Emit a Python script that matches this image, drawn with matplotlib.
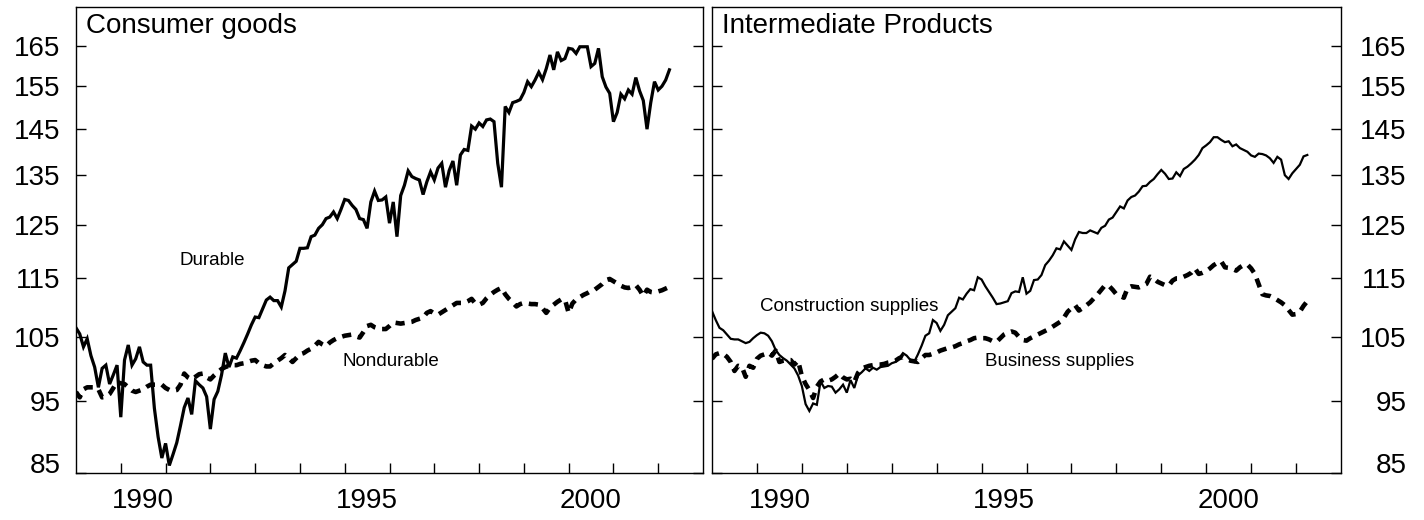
import numpy as np
import matplotlib
matplotlib.use("Agg")
import matplotlib.pyplot as plt
from matplotlib.ticker import NullLocator

plt.rcParams['font.family'] = ['Liberation Sans', 'DejaVu Sans']

# Monthly index values, Jan 1989 - Apr 2002
start_year = 1989

durable = [
    106.5, 105.5, 103.4, 104.7, 102.0, 100.2, 97.1, 100.0, 100.5, 97.6, 99.0, 100.5,
    92.7, 101.3, 103.7, 100.5, 101.5, 103.4, 101.0, 100.5, 100.5, 94.0, 89.9, 87.0,
    89.0, 86.0, 87.5, 89.1, 91.5, 94.1, 95.5, 93.1, 98.1, 97.5, 97.0, 95.7,
    91.0, 95.3, 96.5, 99.0, 102.4, 100.2, 101.8, 101.6, 102.8, 104.1, 105.5, 107.0,
    108.3, 108.2, 109.7, 111.2, 111.7, 111.1, 111.1, 110.0, 112.8, 116.9, 117.5, 118.1,
    120.5, 120.5, 120.6, 122.7, 123.0, 124.3, 125.0, 126.2, 126.5, 127.5, 126.2, 128.0,
    130.0, 129.8, 128.8, 128.0, 126.2, 126.0, 124.3, 129.5, 131.7, 129.8, 129.9, 130.5,
    125.3, 129.5, 122.7, 130.8, 132.9, 135.9, 134.7, 134.3, 134.0, 131.0, 133.6, 135.7,
    134.0, 136.5, 137.5, 132.5, 136.0, 138.0, 132.9, 139.3, 140.5, 140.3, 145.7, 145.0,
    146.4, 145.6, 147.1, 147.3, 146.7, 137.5, 132.5, 150.2, 148.8, 151.1, 151.4, 151.8,
    153.5, 156.1, 154.9, 156.5, 158.4, 156.6, 159.3, 162.7, 159.0, 163.5, 161.3, 161.8,
    164.4, 164.2, 163.1, 164.8, 164.8, 164.8, 159.8, 160.6, 164.4, 157.3, 154.8, 153.3,
    146.7, 148.8, 153.1, 152.0, 154.1, 153.1, 157.1, 153.9, 151.6, 145.0, 151.1, 156.1,
    154.1, 155.0, 156.5, 159.0,
]

nondurable = [
    96.4, 95.6, 96.8, 97.1, 97.1, 97.1, 96.8, 95.6, 95.7, 96.1, 97.0, 97.9,
    97.7, 97.6, 97.1, 96.6, 96.4, 96.6, 96.8, 97.2, 97.5, 97.5, 97.5, 97.5,
    97.0, 96.7, 96.6, 96.7, 97.5, 99.2, 98.6, 98.3, 98.7, 99.1, 99.2, 98.6,
    98.3, 98.9, 99.4, 99.9, 100.2, 100.4, 100.5, 100.5, 100.7, 100.8, 101.0, 101.2,
    101.3, 100.8, 100.5, 100.3, 100.3, 100.8, 101.2, 101.6, 102.1, 101.6, 101.0, 101.6,
    102.2, 102.4, 102.8, 103.1, 103.6, 104.2, 103.8, 103.5, 104.1, 104.5, 104.8, 105.0,
    105.2, 105.3, 105.4, 105.1, 104.9, 105.8, 106.8, 107.0, 106.6, 106.4, 106.3, 106.3,
    106.8, 107.4, 107.3, 107.2, 107.3, 107.4, 107.5, 107.8, 108.0, 108.2, 109.0, 109.3,
    108.9, 108.7, 109.1, 109.5, 109.9, 110.3, 110.7, 110.7, 110.7, 111.0, 111.4, 110.6,
    110.4, 110.7, 111.5, 112.1, 112.6, 113.0, 113.3, 112.2, 111.4, 110.8, 110.1, 110.5,
    110.7, 110.6, 110.5, 110.5, 110.4, 109.8, 109.0, 109.9, 110.4, 110.9, 111.3, 111.3,
    109.0, 110.6, 111.3, 111.7, 112.1, 112.4, 112.8, 113.0, 113.5, 114.0, 114.7, 114.9,
    114.5, 114.1, 113.7, 113.4, 113.3, 113.5, 113.8, 113.0, 111.9, 113.0, 112.6, 112.5,
    112.7, 112.9, 113.2, 113.5,
]

construction = [
    109.3, 107.8, 106.5, 106.1, 105.4, 104.7, 104.6, 104.6, 104.3, 104.0, 104.2, 104.8,
    105.3, 105.7, 105.6, 105.2, 104.3, 102.9, 102.1, 101.6, 101.2, 100.6, 100.0, 98.9,
    97.3, 94.6, 93.6, 94.7, 94.5, 98.0, 97.0, 97.3, 97.2, 96.3, 96.8, 97.5,
    96.3, 98.2, 97.0, 98.9, 99.4, 100.0, 99.6, 100.1, 99.8, 100.2, 100.3, 100.4,
    100.8, 101.0, 101.6, 102.4, 102.0, 101.3, 101.0, 102.2, 103.6, 105.2, 105.6, 107.8,
    107.3, 106.0, 107.0, 108.6, 109.2, 109.8, 111.6, 111.3, 112.3, 113.1, 112.9, 115.2,
    114.8, 113.6, 112.6, 111.6, 110.5, 110.6, 110.8, 111.0, 112.4, 112.7, 112.6, 115.2,
    112.3, 112.8, 114.7, 114.8, 115.6, 117.4, 118.2, 119.2, 120.5, 120.3, 121.8, 121.0,
    120.2, 122.2, 123.6, 123.4, 123.4, 123.9, 123.6, 123.3, 124.4, 124.8, 126.0, 126.4,
    127.5, 128.6, 128.2, 129.8, 130.5, 130.8, 131.6, 132.7, 132.8, 133.6, 134.2, 135.2,
    136.1, 135.3, 134.2, 134.3, 135.6, 134.8, 136.3, 136.8, 137.5, 138.3, 139.3, 140.8,
    141.4, 142.1, 143.2, 143.2, 142.6, 142.1, 142.3, 141.2, 141.6, 140.8, 140.4, 140.0,
    139.2, 138.9, 139.6, 139.5, 139.2, 138.6, 137.6, 138.9, 138.3, 135.0, 134.2, 135.4,
    136.3, 137.2, 139.0, 139.3,
]

business = [
    101.5, 102.2, 102.4, 102.3, 101.8, 101.0, 99.6, 100.4, 100.2, 98.7, 100.4, 100.1,
    101.5, 102.0, 102.2, 102.5, 102.0, 102.8, 101.0, 101.2, 101.3, 101.3, 100.6, 101.2,
    98.8, 97.6, 96.7, 95.5, 97.2, 98.0, 98.3, 98.1, 98.3, 98.7, 99.2, 98.6,
    98.3, 98.4, 97.9, 99.3, 100.0, 100.2, 100.4, 100.5, 100.6, 100.6, 100.7, 100.9,
    101.0, 101.2, 101.6, 101.8, 101.5, 101.2, 101.1, 101.0, 101.6, 102.1, 102.1, 102.3,
    102.5, 102.8, 103.0, 103.2, 103.3, 103.5, 103.8, 104.0, 104.3, 104.5, 104.8, 104.9,
    104.8, 104.8, 104.6, 104.3, 104.2, 104.8, 105.4, 105.7, 105.9, 105.7, 105.0, 104.5,
    104.4, 104.8, 105.1, 105.4, 105.7, 106.0, 106.3, 106.7, 107.1, 107.5, 108.2, 109.2,
    109.8, 110.3, 109.4, 109.8, 110.3, 110.8, 111.5, 112.2, 113.0, 113.8, 113.7, 113.0,
    112.2, 111.9, 111.6, 113.3, 113.6, 113.5, 113.4, 113.7, 114.0, 115.3, 115.0, 114.4,
    114.1, 113.8, 113.7, 114.6, 115.0, 115.0, 115.3, 115.6, 116.0, 116.8, 115.8, 116.0,
    116.3, 116.8, 117.4, 117.8, 118.1, 117.0, 116.9, 116.7, 116.4, 117.0, 117.4, 117.5,
    116.8, 115.8, 114.0, 112.2, 112.0, 111.9, 111.6, 111.2, 110.8, 110.3, 109.5, 108.7,
    108.8, 109.2, 110.2, 111.0,
]

panel_titles = ["Consumer goods", "Intermediate Products"]
ytick_values = [85, 95, 105, 115, 125, 135, 145, 155, 165]
year_ticks = list(range(1990, 2003))
year_labels = [1990, 1995, 2000]

t = start_year + np.arange(len(durable)) / 12.0

fig = plt.figure(figsize=(14.24, 5.2), dpi=100)
ax1 = fig.add_axes([76 / 1424, 47 / 520, 627 / 1424, 466 / 520])
ax2 = fig.add_axes([712 / 1424, 47 / 520, 629 / 1424, 466 / 520])

dash_style = (0, (2.0, 1.5))

ax1.plot(t, durable, color='black', lw=2.3, solid_joinstyle='miter')
ax1.plot(t, nondurable, color='black', lw=3.3, linestyle=dash_style)
ax2.plot(t, construction, color='black', lw=1.6, solid_joinstyle='miter')
ax2.plot(t, business, color='black', lw=3.3, linestyle=dash_style)

ax1.text(1991.32, 117.4, "Durable", fontsize=13.5, va='baseline')
ax1.text(1994.95, 100.3, "Nondurable", fontsize=13.5, va='baseline')
ax2.text(1990.07, 109.4, "Construction supplies", fontsize=13.5, va='baseline')
ax2.text(1995.07, 100.3, "Business supplies", fontsize=13.5, va='baseline')

for ax, title in zip([ax1, ax2], panel_titles):
    ax.set_yscale('log')
    ax.set_ylim(85, 175.3)
    ax.set_xlim(1989, 2003)
    ax.yaxis.set_minor_locator(NullLocator())
    ax.set_yticks(ytick_values, labels=[str(v) for v in ytick_values])
    ax.set_xticks(year_ticks, labels=[])
    ax.set_xticks([y + 0.5 for y in year_labels],
                  labels=[str(y) for y in year_labels], minor=True)
    ax.tick_params(axis='x', which='major', direction='in', length=7, width=1)
    ax.tick_params(axis='x', which='minor', length=0, labelsize=20, pad=11)
    ax.tick_params(axis='y', which='major', direction='in', length=7, width=1,
                   left=True, right=True, labelsize=20)
    for s in ax.spines.values():
        s.set_linewidth(1.0)
    ax.annotate(title, xy=(0, 1), xycoords='axes fraction', xytext=(7, -4),
                textcoords='offset points', fontsize=20, va='top', ha='left')

ax1.tick_params(axis='y', labelleft=True, labelright=False, pad=11)
ax2.tick_params(axis='y', labelleft=False, labelright=True, pad=47)
for lab in ax2.get_yticklabels():
    lab.set_ha('right')
ax1.get_yticklabels()[0].set_va('baseline')
ax2.get_yticklabels()[0].set_va('baseline')

fig.savefig("out.png", dpi=100)
